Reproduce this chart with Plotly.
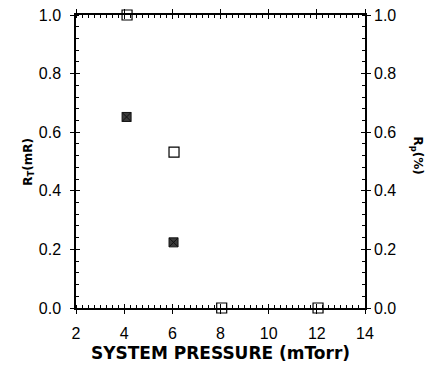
import plotly.graph_objects as go

# Data
rt_pressure = [4.1, 6.05]          # filled (cross-hatched) squares, R_T (mR)
rt_values = [0.652, 0.224]

rp_pressure = [4.12, 6.07, 8.05, 12.05]   # open squares, R_p (%)
rp_values = [1.0, 0.532, 0.0, 0.0]

x_ticks = [2, 4, 6, 8, 10, 12, 14]
y_ticks = [0.0, 0.2, 0.4, 0.6, 0.8, 1.0]

x_title = "SYSTEM PRESSURE (mTorr)"
left_title = "R<sub>T</sub>(mR)"
right_title = "R<sub>p</sub>(%)"

tick_font = dict(family="Liberation Sans, Arial, sans-serif", size=16, color="black")
title_font = dict(family="DejaVu Sans, sans-serif", size=17, color="black")

fig = go.Figure()

fig.add_trace(go.Scatter(
    x=rt_pressure, y=rt_values, mode="markers",
    marker=dict(symbol="square-x", size=9, color="#3a3a3a",
                line=dict(color="#111", width=1)),
    xaxis="x", yaxis="y", showlegend=False, hoverinfo="x+y",
))

fig.add_trace(go.Scatter(
    x=rp_pressure, y=rp_values, mode="markers",
    marker=dict(symbol="square-open", size=10, color="black",
                line=dict(color="black", width=1.2)),
    xaxis="x2", yaxis="y2", showlegend=False, hoverinfo="x+y", cliponaxis=False,
))

fig.update_layout(
    width=437, height=369,
    margin=dict(l=76, r=72, t=15, b=61, autoexpand=False),
    paper_bgcolor="white", plot_bgcolor="white",
    font=tick_font,
    xaxis=dict(
        range=[2, 14], tickvals=x_ticks, ticks="outside", ticklen=4, tickwidth=1,
        tickcolor="black", showline=True, linecolor="black", linewidth=1.5,
        mirror="ticks", showgrid=False, zeroline=False, tickfont=tick_font,
        automargin=False, ticklabelstandoff=6,
        minor=dict(ticks="inside", dtick=0.25, ticklen=3, tickcolor="black", showgrid=False),
        title=dict(text="<b>" + x_title + "</b>", font=title_font, standoff=6),
    ),
    xaxis2=dict(
        range=[2, 14], overlaying="x", matches="x", side="bottom",
        tickvals=x_ticks, ticks="inside", ticklen=4, tickcolor="black",
        showticklabels=False, mirror="ticks", showline=False, showgrid=False,
        zeroline=False, automargin=False,
    ),
    yaxis=dict(
        range=[0, 1.0], tickvals=y_ticks, tickformat=".1f", ticks="outside", ticklen=4,
        tickcolor="black", showline=True, linecolor="black", linewidth=1.5,
        mirror="ticks", showgrid=False, zeroline=False, tickfont=tick_font,
        automargin=False, ticklabelstandoff=6,
        minor=dict(ticks="inside", dtick=0.04, ticklen=3, tickcolor="black", showgrid=False),
    ),
    yaxis2=dict(
        range=[0, 1.0], overlaying="y", matches="y", side="right",
        tickvals=y_ticks, tickformat=".1f", ticks="inside", ticklen=4, tickcolor="black",
        showticklabels=True, mirror="ticks", showline=False, showgrid=False, zeroline=False,
        tickfont=tick_font, automargin=False, ticklabelstandoff=8,
    ),
    annotations=[
        dict(text="<b>" + left_title + "</b>", xref="paper", yref="paper",
             x=-0.2, y=0.5, showarrow=False, textangle=-90,
             font=dict(family="DejaVu Sans, sans-serif", size=12, color="black")),
        dict(text="<b>" + right_title + "</b>", xref="paper", yref="paper",
             x=1.215, y=0.52, showarrow=False, textangle=90,
             font=dict(family="DejaVu Sans, sans-serif", size=12, color="black")),
    ],
)

fig.write_html(
    "out.html",
    config={"displayModeBar": False},
    post_script="document.body.style.margin='0';document.body.style.overflow='hidden';",
)
